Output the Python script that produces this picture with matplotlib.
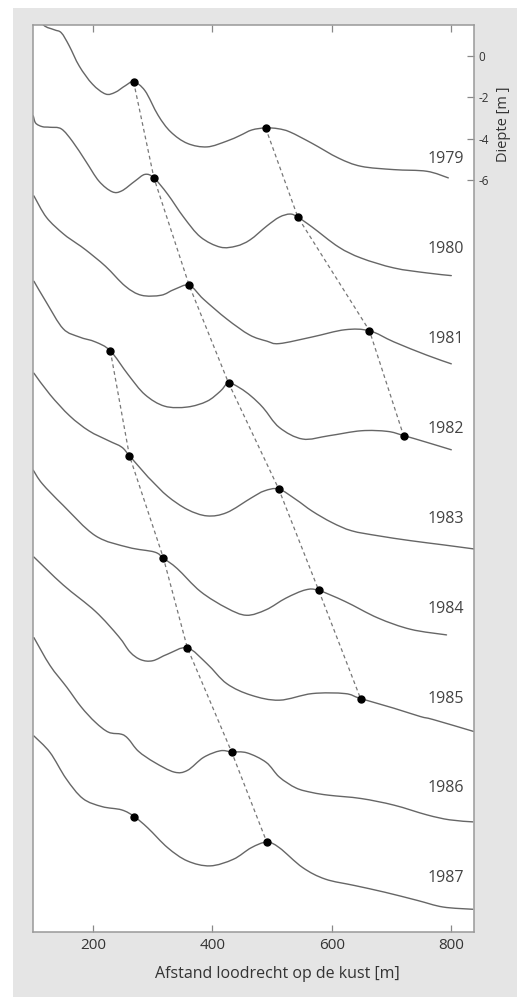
import matplotlib
matplotlib.use("Agg")
import matplotlib.pyplot as plt
from matplotlib.patches import Rectangle, PathPatch
from matplotlib.path import Path

plt.rcParams['font.family'] = ['Open Sans', 'DejaVu Sans']

years = ['1979', '1980', '1981', '1982', '1983', '1984', '1985', '1986', '1987']

x1979 = [100, 117, 135, 147, 160, 177, 199, 221, 237, 254, 268, 287, 309, 330, 358, 391, 424, 446, 466, 489, 510, 530, 567, 611, 649, 704, 759, 795]
d1979 = [2.2, 1.50, 1.27, 1.12, 0.50, -0.49, -1.36, -1.84, -1.76, -1.44, -1.25, -1.68, -2.87, -3.67, -4.23, -4.40, -4.12, -3.85, -3.58, -3.48, -3.52, -3.68, -4.23, -4.94, -5.34, -5.50, -5.58, -5.90]

x1980 = [100, 104, 115, 128, 147, 166, 188, 210, 232, 248, 270, 287, 302, 325, 352, 380, 413, 440, 463, 491, 512, 530, 543, 567, 611, 649, 704, 759, 800]
d1980 = [1.45, 1.10, 0.93, 0.90, 0.82, 0.20, -0.75, -1.71, -2.22, -2.18, -1.71, -1.38, -1.55, -2.34, -3.46, -4.41, -4.90, -4.85, -4.55, -3.88, -3.45, -3.30, -3.45, -3.93, -4.89, -5.43, -5.91, -6.15, -6.28]

x1981 = [101, 122, 150, 173, 188, 221, 254, 281, 314, 336, 361, 385, 424, 462, 491, 512, 567, 622, 663, 704, 759, 800]
d1981 = [1.93, 0.89, 0.10, -0.38, -0.69, -1.48, -2.44, -2.88, -2.88, -2.60, -2.40, -3.07, -4.03, -4.80, -5.10, -5.22, -4.90, -4.55, -4.60, -5.14, -5.78, -6.20]

x1982 = [101, 122, 150, 177, 204, 229, 259, 287, 320, 358, 391, 413, 427, 446, 465, 485, 512, 551, 595, 649, 693, 720, 759, 800]
d1982 = [2.15, 1.12, -0.15, -0.55, -0.79, -1.22, -2.38, -3.34, -3.90, -3.94, -3.66, -3.18, -2.78, -3.02, -3.42, -3.98, -4.93, -5.49, -5.33, -5.09, -5.12, -5.32, -5.65, -6.01]

x1983 = [101, 128, 161, 193, 226, 248, 261, 287, 298, 325, 358, 391, 424, 465, 487, 511, 540, 567, 600, 633, 677, 732, 786, 838]
d1983 = [2.05, 1.01, -0.02, -0.74, -1.22, -1.53, -1.95, -2.81, -3.15, -3.91, -4.55, -4.86, -4.70, -3.99, -3.65, -3.56, -4.07, -4.63, -5.18, -5.58, -5.82, -6.06, -6.26, -6.46]

x1984 = [100, 115, 150, 204, 259, 303, 318, 341, 380, 424, 457, 490, 523, 556, 578, 622, 677, 732, 792]
d1984 = [1.70, 1.05, 0.0, -1.47, -2.03, -2.26, -2.56, -3.06, -4.17, -4.97, -5.32, -5.05, -4.49, -4.09, -4.12, -4.65, -5.45, -6.00, -6.27]

x1985 = [101, 150, 204, 243, 262, 280, 300, 325, 358, 391, 424, 465, 512, 567, 622, 648, 704, 748, 770, 837]
d1985 = [1.85, 0.50, -0.78, -2.00, -2.75, -3.12, -3.17, -2.85, -2.55, -3.32, -4.28, -4.84, -5.08, -4.76, -4.76, -5.00, -5.47, -5.87, -6.02, -6.59]

x1986 = [101, 128, 156, 180, 204, 226, 248, 259, 276, 303, 336, 358, 385, 413, 432, 458, 490, 512, 540, 567, 595, 649, 704, 759, 797, 836]
d1986 = [2.30, 0.95, -0.10, -1.05, -1.80, -2.28, -2.38, -2.60, -3.20, -3.74, -4.21, -4.13, -3.50, -3.18, -3.23, -3.28, -3.74, -4.45, -4.98, -5.20, -5.33, -5.49, -5.81, -6.28, -6.52, -6.62]

x1987 = [101, 128, 155, 183, 215, 248, 269, 292, 325, 358, 396, 435, 465, 491, 512, 551, 589, 638, 688, 743, 786, 836]
d1987 = [1.89, 1.09, -0.18, -1.14, -1.53, -1.69, -2.01, -2.57, -3.52, -4.16, -4.40, -4.08, -3.52, -3.25, -3.52, -4.48, -5.04, -5.35, -5.67, -6.07, -6.39, -6.50]

profiles_x = [x1979, x1980, x1981, x1982, x1983, x1984, x1985, x1986, x1987]
profiles_d = [d1979, d1980, d1981, d1982, d1983, d1984, d1985, d1986, d1987]

# bar crests (dots) per year
crest_x = [[268, 489], [302, 543], [361, 663], [229, 427, 720], [261, 511],
           [318, 578], [358, 648], [432], [269, 491]]
crest_d = [[-1.25, -3.48], [-1.55, -3.45], [-2.40, -4.60], [-1.22, -2.78, -5.32], [-1.95, -3.56],
           [-2.56, -4.12], [-2.55, -5.00], [-3.23], [-2.01, -3.25]]

# crest tracks: (year index, crest index)
tracks = [
    [(0, 0), (1, 0), (2, 0), (3, 1), (4, 1), (5, 1), (6, 1)],
    [(0, 1), (1, 1), (2, 1), (3, 2)],
    [(3, 0), (4, 0), (5, 0), (6, 0), (7, 0), (8, 1)],
]

depth_ticks = [0, -2, -4, -6]
depth_labels = ['0', '-2', '-4', '-6']
x_ticks = [200, 400, 600, 800]

OFFSET = 4.35
LABEL_DEPTH = -5.0


def smooth_path(xs, ys):
    """Bezier path through the given points (Catmull-Rom tangents)."""
    pts = list(zip(xs, ys))
    n = len(pts)
    verts = [pts[0]]
    codes = [Path.MOVETO]
    for i in range(n - 1):
        p0 = pts[max(i - 1, 0)]
        p1 = pts[i]
        p2 = pts[i + 1]
        p3 = pts[min(i + 2, n - 1)]
        c1 = (p1[0] + (p2[0] - p0[0]) / 6.0, p1[1] + (p2[1] - p0[1]) / 6.0)
        c2 = (p2[0] - (p3[0] - p1[0]) / 6.0, p2[1] - (p3[1] - p1[1]) / 6.0)
        verts += [c1, c2, p2]
        codes += [Path.CURVE4] * 3
    return Path(verts, codes)


W, H = 530, 1005
fig = plt.figure(figsize=(W / 100, H / 100), dpi=100)
fig.patch.set_facecolor('white')
fig.patches.append(Rectangle((13 / W, 1 - 997 / H), 504 / W, 989 / H,
                             transform=fig.transFigure, facecolor='#e5e5e5',
                             edgecolor='none', zorder=-10))

ax = fig.add_axes([33.3 / W, 1 - 932 / H, 440.7 / W, 907 / H])
ax.set_facecolor('white')

line_col = '#666666'
for i, (xs, ds) in enumerate(zip(profiles_x, profiles_d)):
    ys = [d - i * OFFSET for d in ds]
    ax.add_patch(PathPatch(smooth_path(xs, ys), fill=False, edgecolor=line_col,
                           lw=1.0, zorder=2, capstyle='round', joinstyle='round'))
    ax.text(822, LABEL_DEPTH - i * OFFSET, years[i], ha='right', va='center',
            fontsize=11.5, color='#444444')

for tr in tracks:
    tx = [crest_x[i][k] for i, k in tr]
    ty = [crest_d[i][k] - i * OFFSET for i, k in tr]
    ax.plot(tx, ty, color='#777777', lw=0.9, dashes=(3, 2.5), zorder=1)

for i in range(len(years)):
    ax.plot(crest_x[i], [d - i * OFFSET for d in crest_d[i]], 'o', color='black',
            ms=5, zorder=3)

ax.set_xlim(100, 838)
ax.set_ylim(-42.4, 1.5)

ax.set_xticks(x_ticks)
ax.set_xticklabels([str(v) for v in x_ticks])
ax.tick_params(axis='x', direction='in', top=True, bottom=True, length=5,
               width=0.9, color='#888888', labelsize=11, labelcolor='#333333', pad=4)
ax.yaxis.tick_right()
ax.set_yticks(depth_ticks)
ax.set_yticklabels(depth_labels)
ax.tick_params(axis='y', direction='in', right=True, left=False, length=5,
               width=0.9, color='#888888', labelsize=8.5, labelcolor='#333333', pad=3)
for s in ax.spines.values():
    s.set_color('#999999')
    s.set_linewidth(1.1)

ax.set_xlabel('Afstand loodrecht op de kust [m]', fontsize=11.5, color='#333333')
ax.xaxis.set_label_coords(0.554, -0.037)
ax.text(1.066, -3.3, 'Diepte [m ]', transform=ax.get_yaxis_transform(),
        rotation=90, ha='center', va='center', fontsize=10.5, color='#333333')

fig.savefig('out.png', dpi=100)
